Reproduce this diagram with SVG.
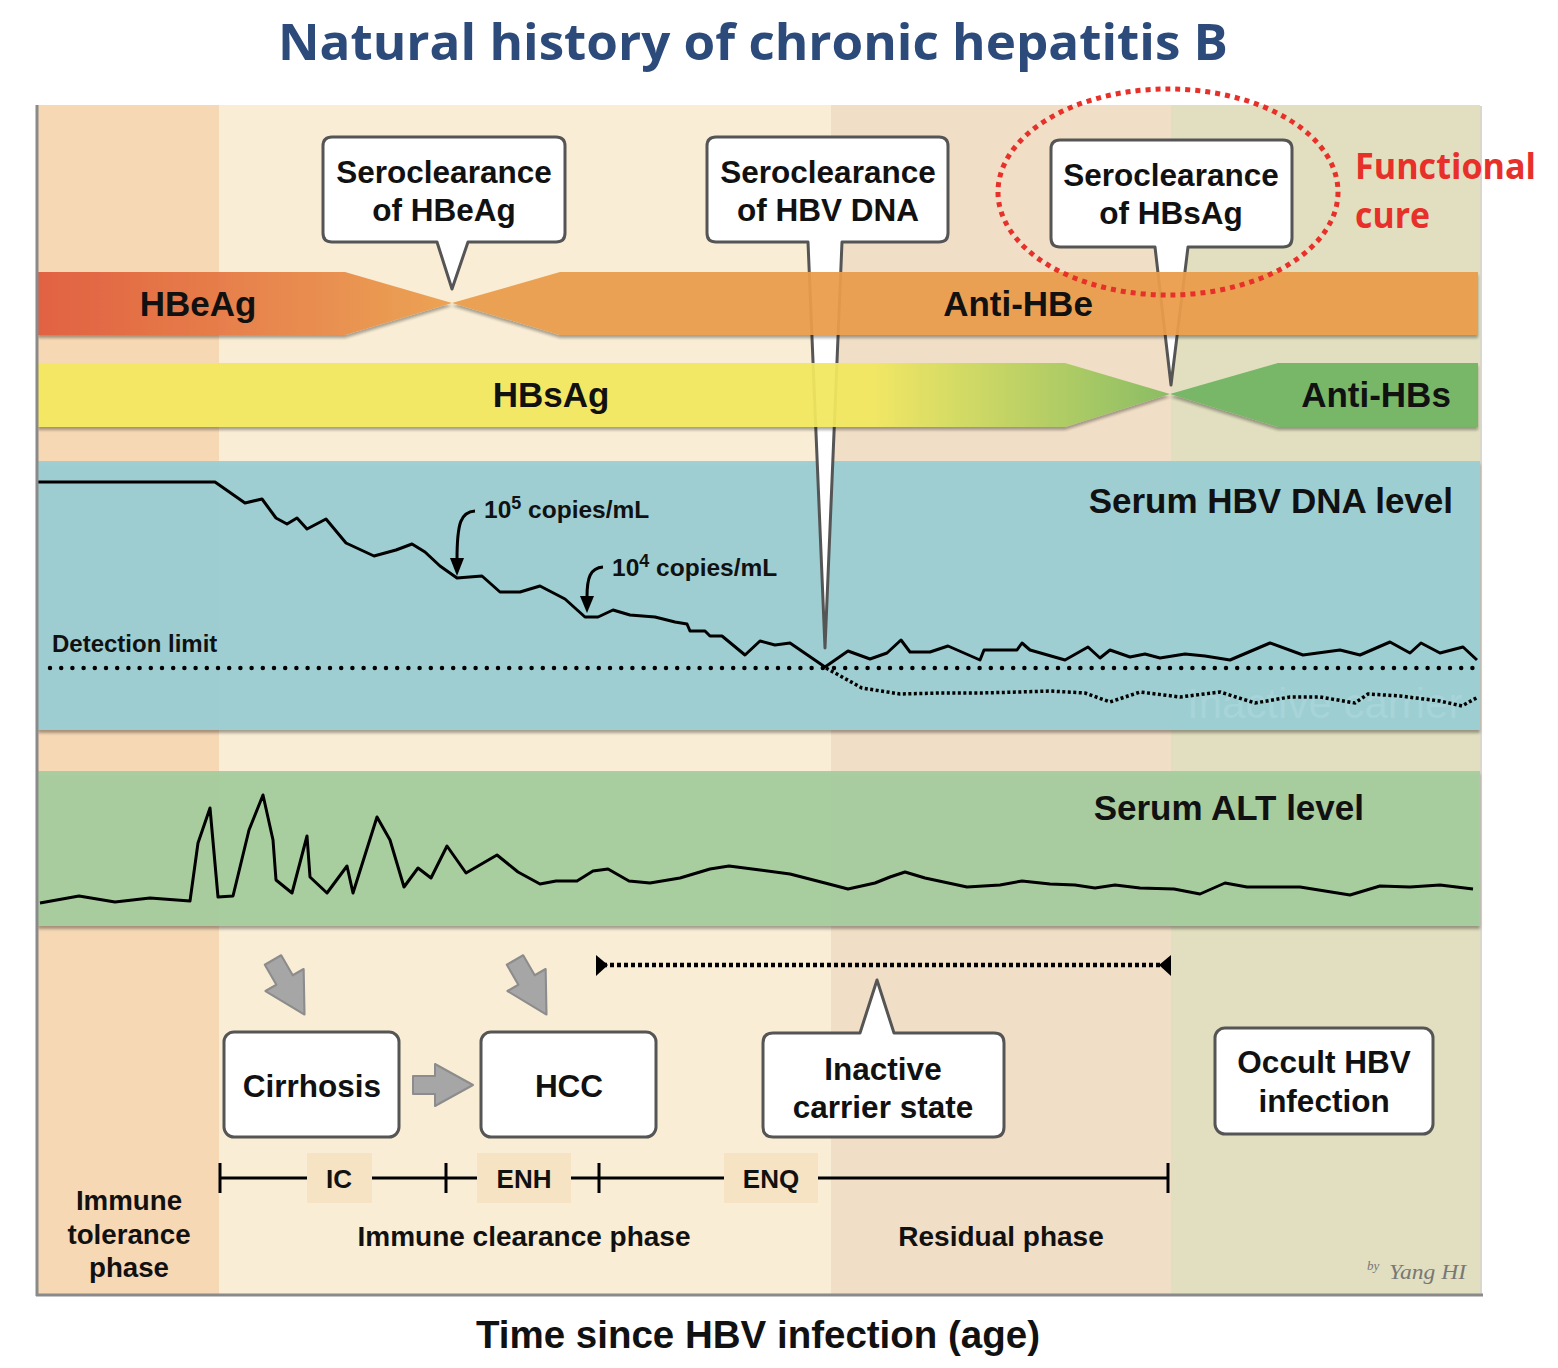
<svg xmlns="http://www.w3.org/2000/svg" width="1558" height="1368" viewBox="0 0 1558 1368">
<defs>
<style>
.t{font-family:"Liberation Sans",Arial,sans-serif;font-weight:bold;fill:#111}
.box{fill:#fff;stroke:#555;stroke-width:3;stroke-linejoin:round}
.garrow{fill:#A6A6A6;stroke:#8C8C8C;stroke-width:2;stroke-linejoin:round}
.curve{fill:none;stroke:#000;stroke-width:3;stroke-linejoin:round}
</style>
<linearGradient id="gE" gradientUnits="userSpaceOnUse" x1="38" y1="0" x2="450" y2="0">
<stop offset="0" stop-color="#E05A3C"/><stop offset="1" stop-color="#EC9F4D"/>
</linearGradient>
<linearGradient id="gS" gradientUnits="userSpaceOnUse" x1="870" y1="0" x2="1170" y2="0">
<stop offset="0" stop-color="#F3E85E"/><stop offset="1" stop-color="#84BB5F"/>
</linearGradient>
<filter id="sh" x="-5%" y="-20%" width="110%" height="150%">
<feDropShadow dx="0" dy="3" stdDeviation="1.6" flood-color="#000" flood-opacity="0.35"/>
</filter>
<clipPath id="dnaClip"><rect x="38" y="461" width="1442" height="269"/></clipPath>
<polygon id="ga" points="0,-9 22,-9 22,-21 60,0 22,21 22,9 0,9"/>
</defs>

<!-- Title -->
<text x="753" y="60" text-anchor="middle" font-family="'Open Sans','Noto Sans',sans-serif" font-weight="bold" font-size="50" fill="#2C4B7B" textLength="950" lengthAdjust="spacingAndGlyphs">Natural history of chronic hepatitis B</text>

<!-- Phase column backgrounds -->
<g id="columns">
<rect x="38" y="105" width="181" height="1190" fill="#F7D8B5"/>
<rect x="219" y="105" width="612" height="1190" fill="#F9EDD5"/>
<rect x="831" y="105" width="340" height="1190" fill="#F1DEC6"/>
<rect x="1171" y="105" width="309" height="1190" fill="#E1DFBF"/>
<line x1="1481" y1="106" x2="1481" y2="1295" stroke="#D9D6CC" stroke-width="2"/>
</g>

<!-- Panels -->
<g id="dna-panel">
<rect x="38" y="461" width="1442" height="269" fill="#9CCFD4" fill-opacity="0.95" filter="url(#sh)"/>
<text x="1187" y="718" font-family="'Liberation Sans',Arial,sans-serif" font-size="42" fill="#A7D4D8" clip-path="url(#dnaClip)">Inactive carrier</text>
</g>
<g id="alt-panel">
<rect x="38" y="771" width="1442" height="155" fill="#A7CD9E" fill-opacity="0.95" filter="url(#sh)"/>
</g>

<!-- Callouts -->
<g id="callout-hbeag">
<path class="box" d="M332 137 H556 Q565 137 565 146 V233 Q565 242 556 242 H468 L452 289 L437 242 H332 Q323 242 323 233 V146 Q323 137 332 137 Z"/>
<text class="t" x="444" y="183" text-anchor="middle" font-size="31.5">Seroclearance</text>
<text class="t" x="444" y="221" text-anchor="middle" font-size="31.5">of HBeAg</text>
</g>
<g id="callout-hbvdna">
<path class="box" d="M716 137 H939 Q948 137 948 146 V233 Q948 242 939 242 H842 L825 648 L808 242 H716 Q707 242 707 233 V146 Q707 137 716 137 Z"/>
<text class="t" x="828" y="183" text-anchor="middle" font-size="31.5">Seroclearance</text>
<text class="t" x="828" y="221" text-anchor="middle" font-size="31.5">of HBV DNA</text>
</g>
<g id="callout-hbsag">
<path class="box" d="M1060 140 H1283 Q1292 140 1292 149 V238 Q1292 247 1283 247 H1188 L1171 385 L1155 247 H1060 Q1051 247 1051 238 V149 Q1051 140 1060 140 Z"/>
<text class="t" x="1171" y="186" text-anchor="middle" font-size="31.5">Seroclearance</text>
<text class="t" x="1171" y="224" text-anchor="middle" font-size="31.5">of HBsAg</text>
</g>

<!-- Serology bands -->
<g id="band-hbe" opacity="0.94" filter="url(#sh)">
<polygon points="38,272 345,272 452,303 345,335 38,335" fill="url(#gE)"/>
<polygon points="452,303 560,272 1478,272 1478,335 560,335" fill="#EA9D4B"/>
</g>
<g id="band-hbs" opacity="0.94" filter="url(#sh)">
<polygon points="38,363 1065,363 1170,394 1065,427 38,427" fill="url(#gS)"/>
<polygon points="1170,394 1278,363 1478,363 1478,427 1278,427" fill="#72B563"/>
</g>
<text class="t" x="198" y="316" text-anchor="middle" font-size="35">HBeAg</text>
<text class="t" x="1018" y="316" text-anchor="middle" font-size="35">Anti-HBe</text>
<text class="t" x="551" y="407" text-anchor="middle" font-size="35">HBsAg</text>
<text class="t" x="1376" y="407" text-anchor="middle" font-size="35">Anti-HBs</text>

<!-- Functional cure -->
<g id="functional-cure">
<ellipse cx="1168" cy="192" rx="170" ry="103" fill="none" stroke="#E8302A" stroke-width="5" stroke-dasharray="5 5"/>
<text x="1355" y="179" font-family="'Open Sans','Noto Sans',sans-serif" font-weight="bold" font-size="36" fill="#E8302A" textLength="181" lengthAdjust="spacingAndGlyphs">Functional</text>
<text x="1355" y="228" font-family="'Open Sans','Noto Sans',sans-serif" font-weight="bold" font-size="36" fill="#E8302A" textLength="75" lengthAdjust="spacingAndGlyphs">cure</text>
</g>

<!-- Curves and connectors -->
<g id="connectors">
<path class="curve" d="M38 482 L215 482 L245 503 L262 499 L276 518 L287 524 L297 518 L307 529 L326 519 L346 543 L374 556 L396 550 L412 544 L425 552 L440 566 L457 578 L482 576 L500 592 L520 592 L540 586 L565 599 L585 617 L598 617 L613 610 L630 615 L655 617 L675 622 L687 624 L690 631 L705 631 L710 636 L722 636 L745 655 L760 641 L775 645 L790 643 L825 667 L848 651 L870 659 L887 653 L901 640 L910 652 L930 652 L948 646 L980 660 L984 650 L1017 650 L1022 643 L1030 650 L1065 660 L1088 647 L1100 658 L1110 650 L1130 657 L1145 654 L1160 658 L1185 654 L1205 656 L1230 660 L1270 643 L1303 655 L1340 650 L1360 655 L1390 642 L1410 653 L1421 643 L1440 653 L1463 647 L1477 660"/>
<line x1="50" y1="668" x2="1478" y2="668" stroke="#000" stroke-width="4.5" stroke-linecap="round" stroke-dasharray="0 11.2"/>
<path d="M826 668 L862 688 L900 694 L940 693 L980 693 L1020 692 L1050 691 L1085 693 L1110 702 L1140 692 L1180 697 L1220 692 L1255 703 L1290 697 L1320 697 L1355 703 L1368 694 L1400 696 L1440 701 L1462 706 L1478 697" fill="none" stroke="#000" stroke-width="3.5" stroke-dasharray="3 2.5"/>
<path d="M475 511 C461 512 457 522 457 560" fill="none" stroke="#000" stroke-width="3"/>
<polygon points="450,558 464,558 457,576" fill="#000"/>
<path d="M603 567 C590 568 587 578 587 597" fill="none" stroke="#000" stroke-width="3"/>
<polygon points="580,596 594,596 587,613" fill="#000"/>
<path class="curve" d="M40 903 L79 896 L115 902 L150 898 L190 901 L198 843 L210 808 L218 897 L233 896 L249 830 L263 795 L273 840 L276 880 L292 893 L307 836 L310 877 L327 893 L347 866 L353 893 L377 817 L390 840 L404 887 L418 868 L431 878 L447 846 L466 873 L497 855 L518 872 L540 884 L556 881 L577 881 L593 871 L608 869 L629 881 L650 883 L680 878 L710 869 L729 866 L760 870 L790 874 L825 883 L848 889 L875 883 L890 877 L905 872 L925 878 L967 887 L1000 885 L1022 881 L1050 884 L1075 885 L1095 888 L1115 885 L1140 888 L1174 889 L1200 894 L1225 883 L1247 887 L1300 887 L1350 895 L1380 886 L1410 887 L1440 885 L1473 889"/>
<line x1="603" y1="965" x2="1165" y2="965" stroke="#000" stroke-width="4.5" stroke-dasharray="4 3"/>
<polygon points="596,955 596,976 608,965" fill="#000"/>
<polygon points="1171,955 1171,976 1159,965" fill="#000"/>
<use href="#ga" class="garrow" transform="translate(273,960) rotate(60) scale(1.05)"/>
<use href="#ga" class="garrow" transform="translate(515,960) rotate(60) scale(1.05)"/>
<use href="#ga" class="garrow" transform="translate(413,1085)"/>
<line x1="219" y1="1178" x2="1168" y2="1178" stroke="#000" stroke-width="3"/>
<line x1="220" y1="1163" x2="220" y2="1193" stroke="#000" stroke-width="3"/>
<line x1="446" y1="1163" x2="446" y2="1193" stroke="#000" stroke-width="3"/>
<line x1="599" y1="1163" x2="599" y2="1193" stroke="#000" stroke-width="3"/>
<line x1="1168" y1="1163" x2="1168" y2="1193" stroke="#000" stroke-width="3"/>
</g>

<!-- Panel labels -->
<text class="t" x="1453" y="513" text-anchor="end" font-size="35">Serum HBV DNA level</text>
<text class="t" x="1364" y="820" text-anchor="end" font-size="35">Serum ALT level</text>
<text class="t" x="52" y="652" font-size="24">Detection limit</text>
<text class="t" x="484" y="518" font-size="24.5">10<tspan font-size="18" dy="-9">5</tspan><tspan dy="9"> copies/mL</tspan></text>
<text class="t" x="612" y="576" font-size="24.5">10<tspan font-size="18" dy="-9">4</tspan><tspan dy="9"> copies/mL</tspan></text>

<!-- Outcome nodes -->
<g id="node-cirrhosis">
<rect class="box" x="224" y="1032" width="175" height="105" rx="10"/>
<text class="t" x="312" y="1097" text-anchor="middle" font-size="31.5">Cirrhosis</text>
</g>
<g id="node-hcc">
<rect class="box" x="481" y="1032" width="175" height="105" rx="10"/>
<text class="t" x="569" y="1097" text-anchor="middle" font-size="31.5">HCC</text>
</g>
<g id="node-inactive">
<path class="box" d="M773 1033 H860 L877 980 L894 1033 H994 Q1004 1033 1004 1043 V1127 Q1004 1137 994 1137 H773 Q763 1137 763 1127 V1043 Q763 1033 773 1033 Z"/>
<text class="t" x="883" y="1080" text-anchor="middle" font-size="31.5">Inactive</text>
<text class="t" x="883" y="1118" text-anchor="middle" font-size="31.5">carrier state</text>
</g>
<g id="node-occult">
<rect class="box" x="1215" y="1028" width="218" height="106" rx="10"/>
<text class="t" x="1324" y="1073" text-anchor="middle" font-size="31.5">Occult HBV</text>
<text class="t" x="1324" y="1112" text-anchor="middle" font-size="31.5">infection</text>
</g>

<!-- Timeline labels -->
<g id="timeline-labels">
<rect x="307" y="1153" width="65" height="50" fill="#F5E3C4"/>
<text class="t" x="339" y="1188" text-anchor="middle" font-size="26">IC</text>
<rect x="477" y="1153" width="94" height="50" fill="#F5E3C4"/>
<text class="t" x="524" y="1188" text-anchor="middle" font-size="26">ENH</text>
<rect x="724" y="1153" width="94" height="50" fill="#F5E3C4"/>
<text class="t" x="771" y="1188" text-anchor="middle" font-size="26">ENQ</text>
</g>

<!-- Phase labels -->
<text class="t" x="129" y="1210" text-anchor="middle" font-size="27.7">Immune</text>
<text class="t" x="129" y="1244" text-anchor="middle" font-size="27.7">tolerance</text>
<text class="t" x="129" y="1277" text-anchor="middle" font-size="27.7">phase</text>
<text class="t" x="524" y="1246" text-anchor="middle" font-size="28">Immune clearance phase</text>
<text class="t" x="1001" y="1246" text-anchor="middle" font-size="28">Residual phase</text>
<text x="1367" y="1270" font-family="'Liberation Serif',serif" font-style="italic" font-size="13" fill="#777">by</text>
<text x="1389" y="1279" font-family="'Liberation Serif',serif" font-style="italic" font-size="21" fill="#777" textLength="77" lengthAdjust="spacingAndGlyphs">Yang HI</text>

<!-- Axes -->
<line x1="37" y1="105" x2="37" y2="1296" stroke="#8A8A8A" stroke-width="3"/>
<line x1="36" y1="1295" x2="1483" y2="1295" stroke="#8A8A8A" stroke-width="3"/>
<text class="t" x="758" y="1348" text-anchor="middle" font-size="38.5">Time since HBV infection (age)</text>
</svg>
